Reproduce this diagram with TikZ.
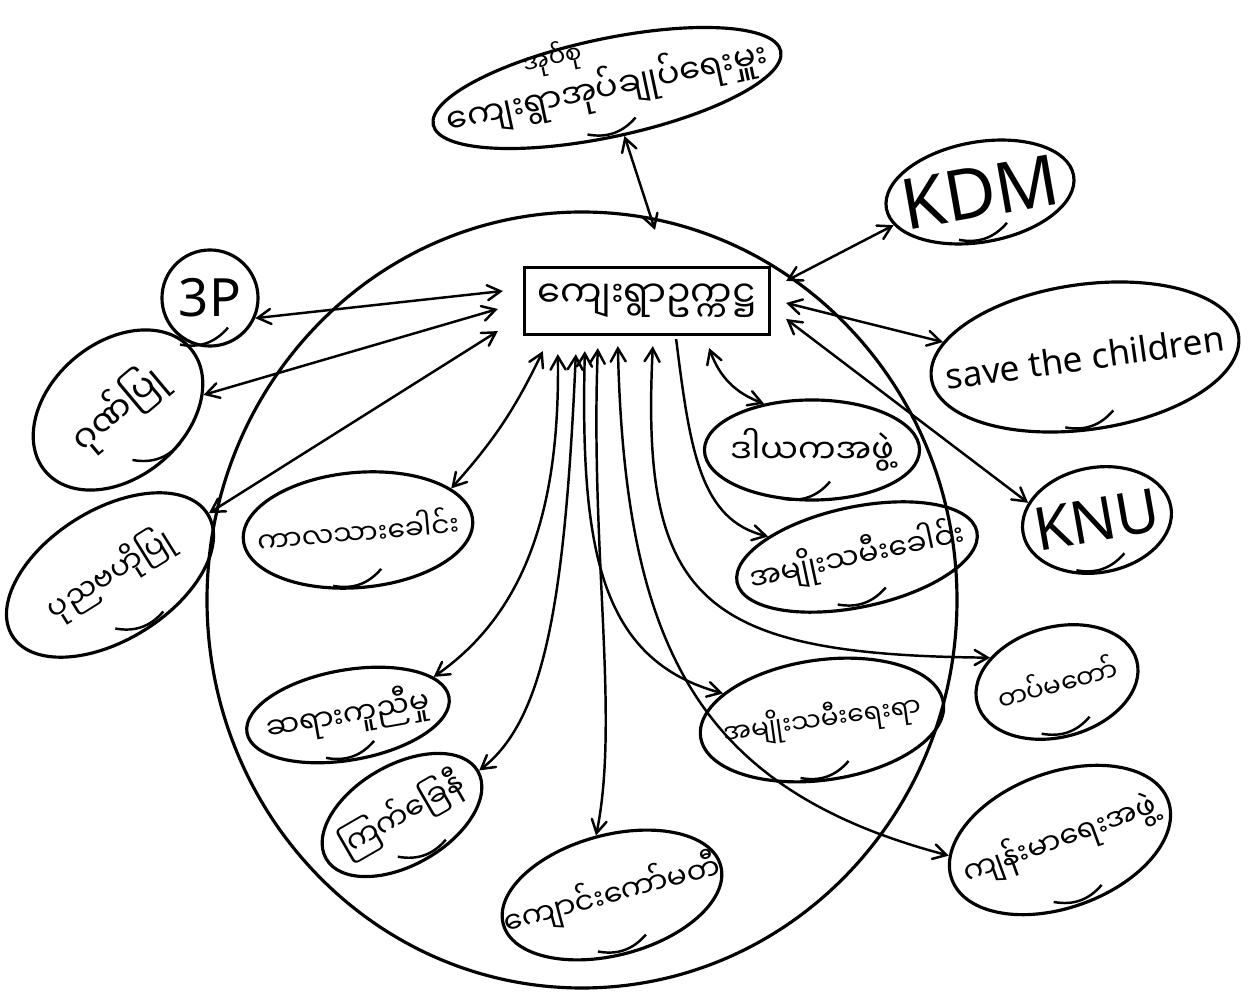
\documentclass[tikz,border=0pt]{standalone}
\usepackage{fontspec}
\setmainfont{Noto Sans}
\newfontfamily\mmfont[Script=Myanmar]{Noto Sans Myanmar UI}
\usetikzlibrary{arrows}
\usetikzlibrary{calc,shapes.geometric}
\newcommand{\zw}[1]{\makebox[0pt]{#1}}
\newcommand{\hook}[1]{\draw[line width=0.7pt] ($(#1.south)+(-30,-3)$) to[bend right=30] ($(#1.south)+(18,-20)$);}

\tikzset{
  blob/.style={draw,ellipse,line width=0.9pt,inner sep=0pt,
    font=\mmfont\fontsize{8.5}{10}\selectfont},
  latin/.style={font=\fontsize{20}{22}\selectfont},
  link/.style={<->,>=angle 60,line width=0.7pt},
}

\begin{document}
\begin{tikzpicture}[x=0.01cm,y=-0.01cm]
\useasboundingbox (0,0) rectangle (1250,994);
% big circle
\draw[line width=0.9pt] (582,600) ellipse [x radius=375,y radius=388];
\node[draw,line width=0.9pt,minimum width=2.45cm,minimum height=0.67cm,
  font=\mmfont\fontsize{10.5}{12}\selectfont] (box) at (647,301) {\zw{ကျေးရွာဥက္ကဋ္ဌ}};
\node[blob,rotate=12,minimum width=3.55cm,minimum height=0.98cm,
  font=\mmfont\fontsize{9.5}{11}\selectfont] (top) at (607,88)
  {\zw{ကျေးရွာ\raisebox{1.3em}[0pt][0pt]{\makebox[0pt]{\fontsize{7}{8}\selectfont အုပ်စု}}အုပ်ချုပ်ရေးမှူး}};
% outside
\node[blob,latin,circle,minimum size=0.96cm,font=\fontsize{15}{17}\selectfont] (sp) at (210,298) {\zw{3P}};
\node[blob,rotate=40,minimum width=1.9cm,minimum height=1.35cm,
  font=\mmfont\fontsize{10}{12}\selectfont] (gun) at (118,410) {\zw{ဂုဏ်ပြု}};
\node[blob,rotate=32,minimum width=2.3cm,minimum height=1.3cm] (pun) at (110,575) {\zw{ပုညဗဟိုပြု}};
\node[blob,latin,rotate=10,minimum width=1.9cm,minimum height=1.0cm] (kdm) at (980,192) {\zw{KDM}};
\node[blob,rotate=8,minimum width=3.1cm,minimum height=1.45cm,
  font=\fontsize{10}{12}\selectfont] (save) at (1085,357) {\zw{save the children}};
\node[blob,latin,rotate=10,minimum width=1.5cm,minimum height=1.05cm,
  font=\fontsize{17}{19}\selectfont] (knu) at (1097,520) {\zw{KNU}};
\node[blob,rotate=15,minimum width=1.65cm,minimum height=1.1cm,
  font=\mmfont\fontsize{7.5}{9}\selectfont] (tat) at (1057,682) {\zw{တပ်မတော်}};
\node[blob,rotate=20,minimum width=2.3cm,minimum height=1.35cm] (health) at (1060,840) {\zw{ကျန်းမာရေးအဖွဲ့}};
% inside
\node[blob,rotate=5,minimum width=2.3cm,minimum height=1.15cm,
  font=\mmfont\fontsize{8}{10}\selectfont] (kala) at (358,530) {\zw{ကာလသားခေါင်း}};
\node[blob,minimum width=2.15cm,minimum height=1.0cm,
  font=\mmfont\fontsize{9.5}{11}\selectfont] (dayaka) at (812,450) {\zw{ဒါယကအဖွဲ့}};
\node[blob,rotate=12,minimum width=2.45cm,minimum height=1.0cm] (amik) at (857,557) {\zw{အမျိုးသမီးခေါင်း}};
\node[blob,rotate=8,minimum width=2.45cm,minimum height=1.2cm,
  font=\mmfont\fontsize{7.5}{9}\selectfont] (amiyay) at (822,720) {\zw{အမျိုးသမီးရေးရာ}};
\node[blob,rotate=10,minimum width=2.05cm,minimum height=0.9cm] (saya) at (348,715) {\zw{ဆရားကူညီမှု}};
\node[blob,rotate=30,minimum width=1.75cm,minimum height=1.0cm] (kyet) at (402,815) {\zw{ကြက်ခြေနီ}};
\node[blob,rotate=15,minimum width=2.25cm,minimum height=1.2cm] (school) at (612,895) {\zw{ကျောင်းကော်မတီ}};
\foreach \n in {top,sp,gun,pun,kdm,save,knu,tat,health,kala,dayaka,amik,amiyay,saya,kyet,school}
  {\hook{\n}}
% links
\draw[link] (top.-82) -- ($(box.north)+(8,-36)$);
\draw[link] ($(box.north east)+(15,15)$) -- (kdm.191);
\draw[link] ($(box.east)+(15,2)$) -- (save.166);
\draw[link] ($(box.east)+(15,18)$) -- (knu.156);
\draw[link] ($(box.west)+(-20,-10)$) -- (sp.-24);
\draw[link] ($(box.west)+(-25,8)$) -- (gun.-30);
\draw[link] ($(box.south west)+(-25,-5)$) -- (pun.east);
\draw[link] ($(box.south west)+(20,15)$) to[bend left=8] (kala.19);
\draw[link] ($(box.south east)+(-62,12)$) to[bend right=25] (dayaka.136);
\draw[link,<-] (amik.155) .. controls (700,520) and (690,450) .. ($(box.south east)+(-95,3)$);
\draw[link] ($(box.south west)+(35,18)$) .. controls (560,500) and (530,610) .. (saya.14);
\draw[link] ($(box.south west)+(53,18)$) .. controls (565,600) and (545,720) .. (kyet.east);
\draw[link] ($(box.south west)+(75,12)$) .. controls (590,550) and (620,720) .. (school.north);
\draw[link] ($(box.south west)+(62,15)$) .. controls (580,550) and (600,660) .. (amiyay.157);
\draw[link] ($(box.south west)+(95,10)$) .. controls (625,650) and (700,790) .. (health.168);
\draw[link] ($(box.south west)+(130,10)$) .. controls (640,600) and (700,655) .. (tat.145);
\end{tikzpicture}
\end{document}
